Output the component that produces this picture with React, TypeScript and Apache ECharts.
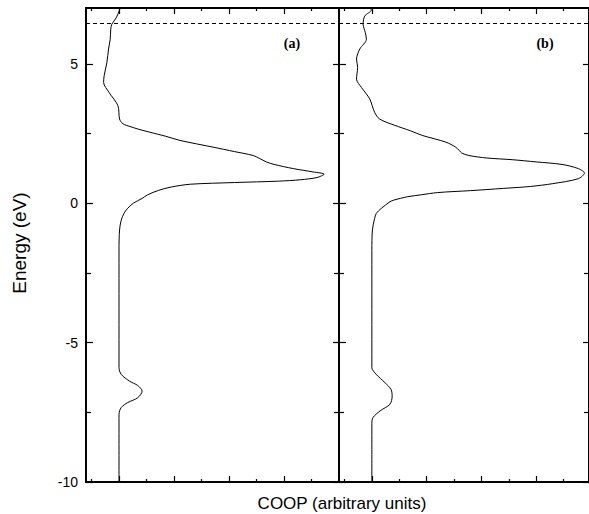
import React, { useEffect, useRef } from "react";
import * as echarts from "echarts";

// Panel (a): energy (eV) and COOP (arbitrary units)
const ENERGY_A = [7.0, 6.93, 6.65, 6.42, 6.24, 5.88, 5.53, 5.05, 4.57, 4.33, 3.97, 3.5, 3.02, 2.85, 2.75, 2.65, 2.55, 2.4, 2.25, 2.01, 1.85, 1.71, 1.6, 1.48, 1.39, 1.24, 1.12, 1.04, 0.92, 0.84, 0.79, 0.74, 0.68, 0.58, 0.46, 0.3, 0.17, 0.0, -0.2, -0.37, -0.61, -0.96, -1.68, -5.9, -6.14, -6.38, -6.54, -6.74, -6.98, -7.15, -7.33, -7.57, -10];
const COOP_A = [0.02, 0.01, -0.05, -0.13, -0.15, -0.16, -0.19, -0.22, -0.27, -0.28, -0.18, -0.02, 0.01, 0.07, 0.2, 0.36, 0.55, 0.85, 1.11, 1.71, 2.1, 2.44, 2.56, 2.68, 2.82, 3.17, 3.53, 3.73, 3.6, 3.3, 2.9, 2.1, 1.3, 0.95, 0.72, 0.52, 0.42, 0.26, 0.15, 0.09, 0.04, 0.01, 0, 0, 0.04, 0.19, 0.34, 0.42, 0.34, 0.16, 0.04, 0, 0];

// Panel (b)
const ENERGY_B = [7.0, 6.93, 6.71, 6.42, 6.12, 5.88, 5.53, 5.17, 4.87, 4.45, 4.15, 3.74, 3.26, 3.02, 2.79, 2.6, 2.43, 2.19, 2.01, 1.88, 1.8, 1.71, 1.62, 1.56, 1.48, 1.39, 1.24, 1.08, 0.88, 0.7, 0.6, 0.53, 0.45, 0.38, 0.3, 0.23, 0.11, 0.05, -0.19, -0.37, -0.55, -0.96, -1.7, -5.9, -6.14, -6.44, -6.68, -6.92, -7.21, -7.45, -7.69, -7.9, -10];
const COOP_B = [-0.02, -0.01, -0.13, -0.16, -0.12, -0.1, -0.22, -0.28, -0.26, -0.28, -0.19, -0.04, 0.05, 0.14, 0.42, 0.7, 0.92, 1.35, 1.53, 1.6, 1.64, 1.77, 2.1, 2.56, 3.0, 3.47, 3.77, 3.88, 3.77, 3.3, 2.9, 2.4, 1.8, 1.2, 0.9, 0.65, 0.4, 0.33, 0.17, 0.08, 0.05, 0.01, 0, 0, 0.08, 0.24, 0.35, 0.37, 0.33, 0.15, 0.02, 0, 0];

const Y_LABELS = [-10, -5, 0, 5];
const Y_MINOR = [-7.5, -2.5, 2.5];
const X_MAJOR = [0, 1, 2, 3];
const X_MINOR = [-0.5, 0.5, 1.5, 2.5, 3.5];
const FERMI_LEVEL = 6.45;
const PANEL_LABELS = ["(a)", "(b)"];

const Y_MIN = -10;
const Y_MAX = 7;
const X_MIN = -0.6;
const X_MAX_A = 4.0;
const X_MAX_B = 3.964;

const SANS = "Liberation Sans, Arial, sans-serif";

function xAxis(grid: number, pos: string, max: number, ticks: number[], len: number) {
  return {
    type: "value",
    gridIndex: grid,
    position: pos,
    min: X_MIN,
    max,
    axisLine: { show: true, onZero: false, lineStyle: { color: "#000", width: 1.8 } },
    axisTick: { show: true, inside: true, length: len, customValues: ticks, lineStyle: { color: "#000", width: 1.2 } },
    axisLabel: { show: false },
    splitLine: { show: false },
  };
}

function yAxis(grid: number, pos: string, ticks: number[], len: number, labels: boolean) {
  return {
    type: "value",
    gridIndex: grid,
    position: pos,
    min: Y_MIN,
    max: Y_MAX,
    axisLine: { show: true, onZero: false, lineStyle: { color: "#000", width: 1.8 } },
    axisTick: { show: true, inside: true, length: len, customValues: ticks, lineStyle: { color: "#000", width: 1.2 } },
    axisLabel: labels
      ? { show: true, customValues: Y_LABELS, color: "#000", fontSize: 14, fontFamily: SANS, margin: 8 }
      : { show: false },
    splitLine: { show: false },
  };
}

function zip(xs: number[], ys: number[]) {
  return xs.map((x, i) => [x, ys[i]]);
}

export default function App() {
  const ref = useRef<HTMLDivElement>(null);
  useEffect(() => {
    if (!ref.current) return;
    const chart = echarts.init(ref.current, null, { renderer: "svg" });
    const xAxes: any[] = [];
    const yAxes: any[] = [];
    [X_MAX_A, X_MAX_B].forEach((mx, g) => {
      xAxes.push(xAxis(g, "bottom", mx, X_MAJOR, 6));
      xAxes.push(xAxis(g, "bottom", mx, X_MINOR, 3));
      xAxes.push(xAxis(g, "top", mx, X_MAJOR, 6));
      xAxes.push(xAxis(g, "top", mx, X_MINOR, 3));
      yAxes.push(yAxis(g, "left", Y_LABELS, 7, g === 0));
      yAxes.push(yAxis(g, "left", Y_MINOR, 5, false));
      yAxes.push(yAxis(g, "right", Y_LABELS, 6, false));
      yAxes.push(yAxis(g, "right", Y_MINOR, 5, false));
    });
    const mkSeries = (g: number, coop: number[], energy: number[]) => ({
      type: "line",
      xAxisIndex: g * 4,
      yAxisIndex: g * 4,
      data: zip(coop, energy),
      symbol: "none",
      showSymbol: false,
      smooth: 0.3,
      lineStyle: { color: "#000", width: 1 },
      silent: true,
      markLine: {
        silent: true,
        symbol: ["none", "none"],
        label: { show: false },
        lineStyle: { color: "#000", width: 1, type: [4, 3] },
        data: [{ yAxis: FERMI_LEVEL }],
      },
    });
    chart.setOption({
      animation: false,
      backgroundColor: "#fff",
      grid: [
        { left: 86, top: 8, width: 253, height: 474 },
        { left: 339, top: 8, width: 251, height: 474 },
      ],
      xAxis: xAxes,
      yAxis: yAxes,
      series: [mkSeries(0, COOP_A, ENERGY_A), mkSeries(1, COOP_B, ENERGY_B)],
      graphic: [
        {
          type: "text",
          x: 19.5,
          y: 243,
          rotation: Math.PI / 2,
          style: { text: "Energy (eV)", fontSize: 19, fontFamily: SANS, fill: "#000", align: "center", verticalAlign: "middle" },
        },
        {
          type: "text",
          x: 342,
          y: 503,
          style: { text: "COOP (arbitrary units)", fontSize: 17, fontFamily: SANS, fill: "#000", align: "center", verticalAlign: "middle" },
        },
        {
          type: "text",
          x: 292,
          y: 43,
          style: { text: PANEL_LABELS[0], fontSize: 14, fontWeight: "bold", fontFamily: "Liberation Serif, Times New Roman, serif", fill: "#000", align: "center", verticalAlign: "middle" },
        },
        {
          type: "text",
          x: 545,
          y: 43,
          style: { text: PANEL_LABELS[1], fontSize: 14, fontWeight: "bold", fontFamily: "Liberation Serif, Times New Roman, serif", fill: "#000", align: "center", verticalAlign: "middle" },
        },
      ],
    });
    return () => chart.dispose();
  }, []);
  return <div ref={ref} style={{ position: "fixed", left: 0, top: 0, width: 589, height: 514 }} />;
}
